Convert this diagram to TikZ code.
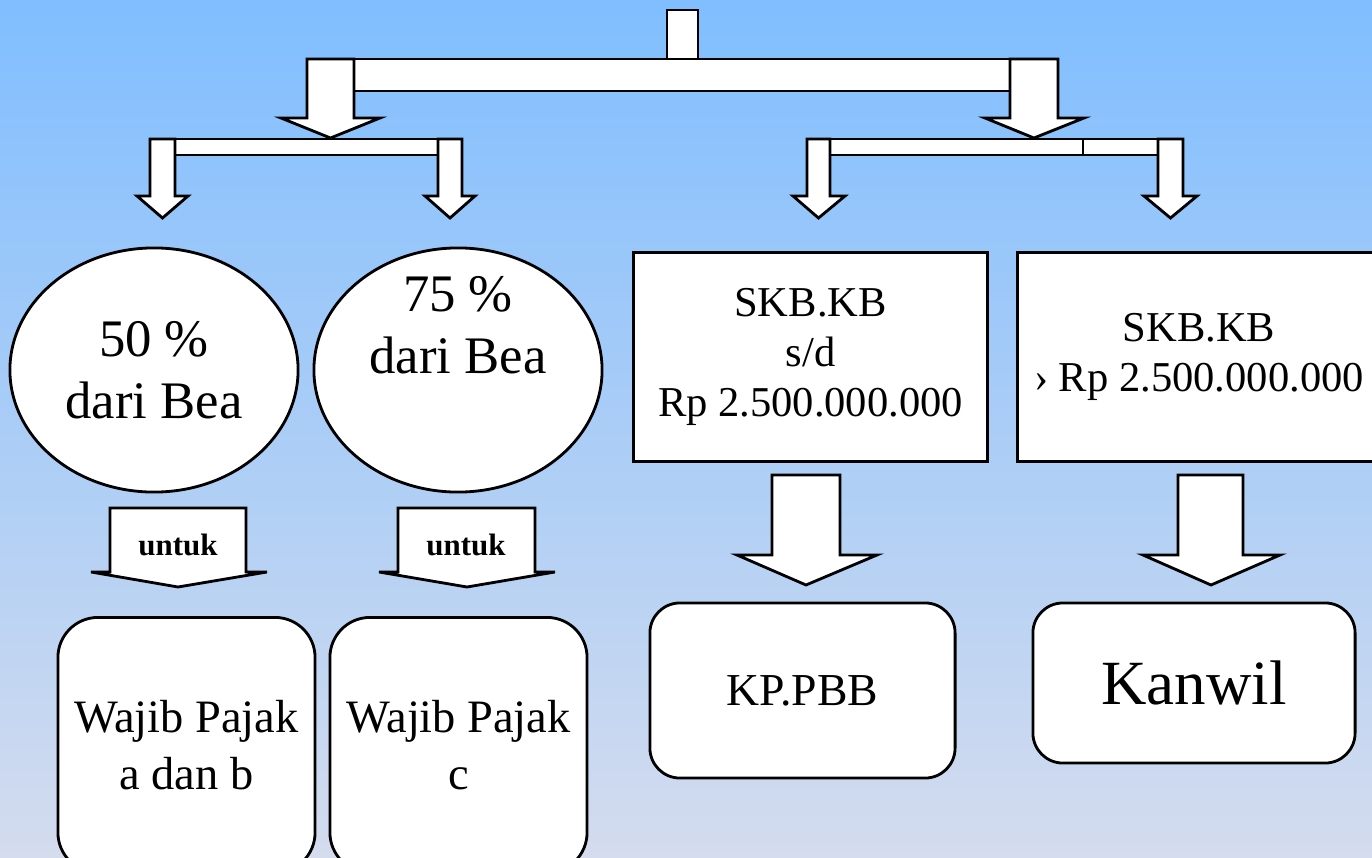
\documentclass[tikz,border=0pt]{standalone}
\usepackage{fontspec}
\setmainfont{Liberation Serif}
\usetikzlibrary{calc,positioning,shapes.geometric}
\definecolor{bgtop}{RGB}{128,190,255}
\definecolor{bgbot}{RGB}{212,220,238}

\begin{document}
\begin{tikzpicture} [x=0.01cm,y=-0.01cm,{blk/.style={draw=black,fill=white,line width=0.8pt,line join=miter}},{bea/.style={ellipse,draw=black,fill=white,line width=0.8pt,minimum width=2.88cm,minimum height=2.44cm,inner sep=0pt,align=center,font=\fontsize{15}{17.6}\selectfont}},{skb/.style={rectangle,draw=black,fill=white,line width=0.8pt,inner sep=0pt,align=center,font=\fontsize{12.1}{14.2}\selectfont}},{tuju/.style={rectangle,rounded corners=0.4cm,draw=black,fill=white,line width=0.8pt,inner sep=0pt,align=center}}]
	%%background
	\shade [top color=bgtop,bottom color=bgbot] (0,0) rectangle (1372,857);
	\useasboundingbox (0,0) rectangle (1372,857);
	%%top stem and main branch
	\draw [blk] (667,10) rectangle (698,59);
	\draw [blk] (354,59) rectangle (1010,91);
	\draw [blk] (307,59) -- (354,59) -- (354,118) -- (380,118) -- (330.5,138) -- (281,118) -- (307,118) -- cycle;
	\draw [blk] (1010,59) -- (1058,59) -- (1058,118) -- (1084,118) -- (1034,138) -- (985,118) -- (1010,118) -- cycle;
	%%left branch
	\draw [blk] (175,139) rectangle (438,155);
	\draw [blk] (150,139) -- (175,139) -- (175,196) -- (188,196) -- (162.5,218) -- (137,196) -- (150,196) -- cycle;
	\draw [blk] (438,139) -- (462,139) -- (462,196) -- (475,196) -- (450,218) -- (425,196) -- (438,196) -- cycle;
	%%right branch
	\draw [blk] (830,139) rectangle (1083,155);
	\draw [blk] (1083,139) rectangle (1158,155);
	\draw [blk] (807,139) -- (830,139) -- (830,196) -- (845,196) -- (818.5,218) -- (793,196) -- (807,196) -- cycle;
	\draw [blk] (1158,139) -- (1183,139) -- (1183,196) -- (1197,196) -- (1170.5,218) -- (1144,196) -- (1158,196) -- cycle;
	%%percentages
	\node [bea] (b50) at (154,370) {50 \%\\dari Bea};
	\node [bea] (b75) at (458,370) {};
	\node [align=center,inner sep=0pt,font=\fontsize{15}{17.6}\selectfont] (b75txt) at ($(b75.center)+(0,-45)$) {75 \%\\dari Bea};
	%%untuk arrows
	\draw [blk] (110,508) -- (246,508) -- (246,572) -- (267,572) -- (178,587) -- (91,572) -- (110,572) -- cycle;
	\draw [blk] (398,508) -- (535,508) -- (535,572) -- (555,572) -- (467,587) -- (379,572) -- (398,572) -- cycle;
	\node [font=\fontsize{8.8}{10}\selectfont\bfseries] (untukA) at (178,545) {untuk};
	\node [font=\fontsize{8.8}{10}\selectfont\bfseries] (untukB) at (466,545) {untuk};
	%%taxpayers
	\node [tuju,minimum width=2.57cm,minimum height=2.55cm,font=\fontsize{13.2}{16.2}\selectfont] (wpA) at (186.5,745) {Wajib Pajak\\a dan b};
	\node [tuju,minimum width=2.57cm,minimum height=2.55cm,font=\fontsize{13.2}{16.2}\selectfont] (wpB) at (458.5,745) {Wajib Pajak\\c};
	%%SKB boxes
	\node [skb,minimum width=3.53cm,minimum height=2.09cm] (skbA) at (810.5,357) {SKB.KB\\s/d\\Rp 2.500.000.000};
	\node [skb,minimum width=3.62cm,minimum height=2.09cm] (skbB) at (1199,357) {SKB.KB\\› Rp 2.500.000.000};
	%%down arrows
	\draw [blk] (772,475) -- (840,475) -- (840,555) -- (877,555) -- (806,585) -- (737,555) -- (772,555) -- cycle;
	\draw [blk] (1178,475) -- (1243,475) -- (1243,555) -- (1280,555) -- (1211,585) -- (1143,555) -- (1178,555) -- cycle;
	%%offices
	\node [tuju,rounded corners=0.3cm,minimum width=3.05cm,minimum height=1.75cm,font=\fontsize{13}{15}\selectfont] (kpp) at (802.5,690.5) {KP.PBB};
	\node [tuju,rounded corners=0.3cm,minimum width=3.22cm,minimum height=1.60cm,font=\fontsize{17.9}{20}\selectfont] (kanwil) at (1194,683) {Kanwil};
\end{tikzpicture}
\end{document}
